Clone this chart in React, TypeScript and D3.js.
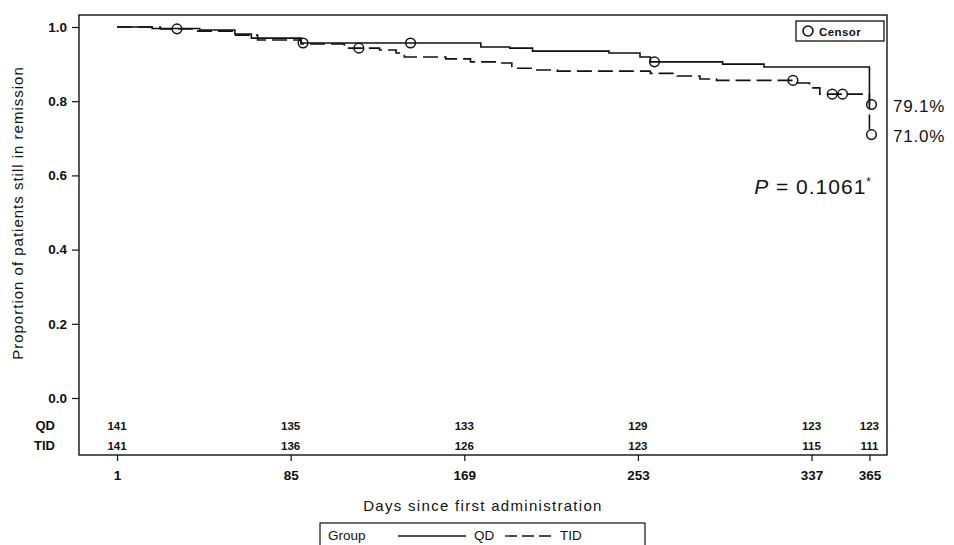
import React from "react";
import * as d3 from "d3";

// Kaplan-Meier steps (day, proportion after the step)
const qdDays = [1, 18, 41, 58, 66, 90, 177, 191, 202, 239, 254, 259, 294, 314, 365];
const qdSurv = [1.0, 0.996, 0.992, 0.981, 0.97, 0.957, 0.946, 0.943, 0.935, 0.93, 0.919, 0.906, 0.9, 0.892, 0.791];
const tidDays = [1, 22, 39, 58, 69, 90, 111, 128, 136, 140, 160, 172, 184, 192, 203, 214, 259, 272, 283, 291, 330, 336, 341, 365];
const tidSurv = [1.0, 0.995, 0.989, 0.978, 0.965, 0.954, 0.943, 0.938, 0.93, 0.919, 0.914, 0.906, 0.903, 0.889, 0.884, 0.881, 0.875, 0.868, 0.86, 0.856, 0.849, 0.836, 0.819, 0.71];

// censored observations
const qdCensorDays = [30, 91, 143, 261, 366];
const qdCensorSurv = [0.995, 0.957, 0.957, 0.906, 0.791];
const tidCensorDays = [118, 328, 347, 352, 366];
const tidCensorSurv = [0.943, 0.856, 0.819, 0.819, 0.71];

const xTicks = [1, 85, 169, 253, 337, 365];
const yTicks = [0, 0.2, 0.4, 0.6, 0.8, 1.0];
const qdAtRisk = [141, 135, 133, 129, 123, 123];
const tidAtRisk = [141, 136, 126, 123, 115, 111];

const FONT = "'Liberation Sans', Arial, sans-serif";
const INK = "#111";

export default function App() {
  const ref = React.useRef<SVGSVGElement>(null);

  React.useEffect(() => {
    const svg = d3.select(ref.current);
    svg.selectAll("*").remove();

    const left = 79, right = 887, top = 15, bottom = 455;
    const x = d3.scaleLinear().domain([-17.4, 373.5]).range([left, right]);
    const y = d3.scaleLinear().domain([0, 1]).range([398, 27]);

    const g = svg.append("g").attr("font-family", FONT).attr("fill", INK);

    // frame
    g.append("rect")
      .attr("x", left).attr("y", top)
      .attr("width", right - left).attr("height", bottom - top)
      .attr("fill", "none").attr("stroke", INK).attr("stroke-width", 1.4);

    // y axis
    const yAxis = d3.axisLeft(y).tickValues(yTicks).tickFormat(d3.format(".1f")).tickSize(7).tickPadding(5);
    const ya = g.append("g").attr("transform", `translate(${left},0)`).call(yAxis);
    ya.select(".domain").remove();
    ya.selectAll("text").attr("font-size", 13.5).attr("font-weight", "bold")
      .attr("font-family", FONT).attr("fill", INK);
    ya.selectAll("line").attr("stroke", INK).attr("stroke-width", 1.2);

    // x axis
    const xAxis = d3.axisBottom(x).tickValues(xTicks).tickSize(6).tickPadding(9);
    const xa = g.append("g").attr("transform", `translate(0,${bottom})`).call(xAxis);
    xa.select(".domain").remove();
    xa.selectAll("text").attr("font-size", 13.5).attr("font-weight", "bold")
      .attr("font-family", FONT).attr("fill", INK);
    xa.selectAll("line").attr("stroke", INK).attr("stroke-width", 1.2);

    // axis titles
    g.append("text")
      .attr("transform", `translate(23,213) rotate(-90)`)
      .attr("text-anchor", "middle").attr("font-size", 15).attr("letter-spacing", 1)
      .text("Proportion of patients still in remission");
    g.append("text")
      .attr("x", (left + right) / 2).attr("y", 511)
      .attr("text-anchor", "middle").attr("font-size", 15).attr("letter-spacing", 1.3)
      .text("Days since first administration");

    // curves
    const line = d3.line<[number, number]>()
      .x(d => x(d[0])).y(d => y(d[1]))
      .curve(d3.curveStepAfter);
    const qd: [number, number][] = qdDays.map((d, i) => [d, qdSurv[i]]);
    const tid: [number, number][] = tidDays.map((d, i) => [d, tidSurv[i]]);
    g.append("path").attr("d", line(tid)).attr("fill", "none")
      .attr("stroke", INK).attr("stroke-width", 1.6).attr("stroke-dasharray", "15,6");
    g.append("path").attr("d", line(qd)).attr("fill", "none")
      .attr("stroke", INK).attr("stroke-width", 1.6);

    const censors = [
      ...qdCensorDays.map((d, i) => [d, qdCensorSurv[i]]),
      ...tidCensorDays.map((d, i) => [d, tidCensorSurv[i]]),
    ];
    g.selectAll(".censor").data(censors).join("circle")
      .attr("class", "censor")
      .attr("cx", d => x(d[0])).attr("cy", d => y(d[1]))
      .attr("r", 4.8).attr("fill", "none").attr("stroke", INK).attr("stroke-width", 1.5);

    // numbers at risk
    const rowQD = 430, rowTID = 450;
    g.append("text").attr("x", 55).attr("y", rowQD).attr("text-anchor", "end")
      .attr("font-size", 13).attr("font-weight", "bold").text("QD");
    g.append("text").attr("x", 55).attr("y", rowTID).attr("text-anchor", "end")
      .attr("font-size", 13).attr("font-weight", "bold").text("TID");
    g.selectAll(".qdrisk").data(qdAtRisk).join("text")
      .attr("class", "qdrisk")
      .attr("x", (_, i) => x(xTicks[i])).attr("y", rowQD)
      .attr("text-anchor", "middle").attr("font-size", 11.5).attr("font-weight", "bold").text(d => d);
    g.selectAll(".tidrisk").data(tidAtRisk).join("text")
      .attr("class", "tidrisk")
      .attr("x", (_, i) => x(xTicks[i])).attr("y", rowTID)
      .attr("text-anchor", "middle").attr("font-size", 11.5).attr("font-weight", "bold").text(d => d);

    // end-of-curve labels
    g.append("text").attr("x", 893).attr("y", y(0.791) + 7).attr("font-size", 17)
      .attr("letter-spacing", 0.8).text("79.1%");
    g.append("text").attr("x", 893).attr("y", y(0.71) + 7).attr("font-size", 17)
      .attr("letter-spacing", 0.8).text("71.0%");

    // p-value
    const p = g.append("text").attr("x", 872).attr("y", 194).attr("text-anchor", "end")
      .attr("font-size", 21).attr("letter-spacing", 1);
    p.append("tspan").attr("font-style", "italic").text("P");
    p.append("tspan").text(" = 0.1061");
    p.append("tspan").attr("font-size", 12).attr("dy", -8).text("*");

    // censor legend
    g.append("rect").attr("x", 796).attr("y", 21).attr("width", 88).attr("height", 20)
      .attr("fill", "none").attr("stroke", INK).attr("stroke-width", 1.3);
    g.append("circle").attr("cx", 808).attr("cy", 31).attr("r", 5)
      .attr("fill", "none").attr("stroke", INK).attr("stroke-width", 1.6);
    g.append("text").attr("x", 819).attr("y", 35.5).attr("font-size", 11.5)
      .attr("font-weight", "bold").attr("letter-spacing", 0.4).text("Censor");

    // group legend (box runs off the bottom edge, as in the source)
    g.append("rect").attr("x", 320).attr("y", 523).attr("width", 325).attr("height", 40)
      .attr("fill", "none").attr("stroke", INK).attr("stroke-width", 1.2);
    g.append("text").attr("x", 328).attr("y", 540).attr("font-size", 13.5).text("Group");
    g.append("line").attr("x1", 398).attr("x2", 466).attr("y1", 536).attr("y2", 536)
      .attr("stroke", INK).attr("stroke-width", 1.3);
    g.append("text").attr("x", 474).attr("y", 540).attr("font-size", 13.5).text("QD");
    g.append("line").attr("x1", 505).attr("x2", 551).attr("y1", 536).attr("y2", 536)
      .attr("stroke", INK).attr("stroke-width", 1.3).attr("stroke-dasharray", "12,5");
    g.append("text").attr("x", 560).attr("y", 540).attr("font-size", 13.5).text("TID");
  }, []);

  return (
    <svg ref={ref} width={954} height={545}
      style={{ position: "absolute", left: 0, top: 0, background: "#fff" }} />
  );
}
